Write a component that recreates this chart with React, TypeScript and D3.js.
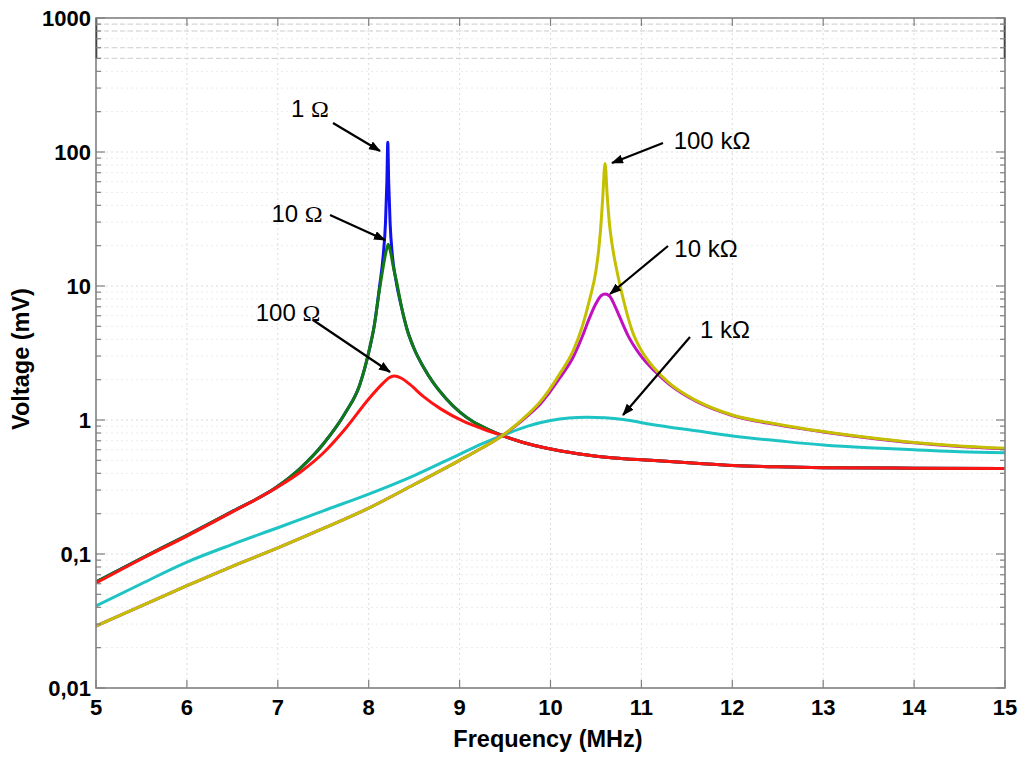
import React from "react";
import * as d3 from "d3";

const W = 1024;
const H = 762;
const M = { left: 96, right: 1005, top: 18, bottom: 688 };

const xTicks = [5, 6, 7, 8, 9, 10, 11, 12, 13, 14, 15];
const yTicks = [1000, 100, 10, 1, 0.1, 0.01];
const yTickLabels = ["1000", "100", "10", "1", "0,1", "0,01"];

// 1 Ω (blue)
const blueF = [5, 5.5, 6, 6.5, 7, 7.25, 7.5, 7.75, 7.9, 8.0, 8.06, 8.12, 8.16, 8.185, 8.2, 8.21, 8.22, 8.235, 8.26, 8.3, 8.36, 8.42, 8.5, 8.6, 8.71, 8.85, 9.0, 9.15, 9.3, 9.48, 9.7, 9.96, 10.3, 10.7, 11.1, 11.6, 12.0, 12.5, 13.0, 14.0, 15.0];
const blueV = [0.062, 0.093, 0.138, 0.208, 0.32, 0.438, 0.662, 1.15, 1.82, 3.2, 5.0, 10, 17, 30, 60, 118, 60, 30, 17, 11, 7, 4.8, 3.4, 2.5, 1.9, 1.45, 1.15, 0.97, 0.86, 0.76, 0.68, 0.615, 0.56, 0.52, 0.5, 0.475, 0.458, 0.447, 0.441, 0.437, 0.435];

// 10 Ω (green)
const greenF = [5, 5.5, 6, 6.5, 7, 7.25, 7.5, 7.75, 7.9, 8.0, 8.06, 8.12, 8.16, 8.19, 8.215, 8.24, 8.27, 8.31, 8.36, 8.42, 8.5, 8.6, 8.71, 8.85, 9.0, 9.15, 9.3, 9.48, 9.7, 9.96, 10.3, 10.7, 11.1, 11.6, 12.0, 12.5, 13.0, 14.0, 15.0];
const greenV = [0.062, 0.093, 0.138, 0.208, 0.32, 0.438, 0.662, 1.15, 1.82, 3.2, 5.0, 9.5, 14, 18, 20.5, 18, 14, 10.5, 7, 4.8, 3.4, 2.5, 1.9, 1.45, 1.15, 0.97, 0.86, 0.76, 0.68, 0.615, 0.56, 0.52, 0.5, 0.475, 0.458, 0.447, 0.441, 0.437, 0.435];

// 100 Ω (red)
const redF = [5, 5.5, 6, 6.5, 7, 7.25, 7.5, 7.75, 8.0, 8.15, 8.22, 8.28, 8.36, 8.45, 8.6, 8.8, 9.04, 9.25, 9.48, 9.7, 9.96, 10.3, 10.7, 11.1, 11.6, 12.0, 12.5, 13.0, 14.0, 15.0];
const redV = [0.0607, 0.0918, 0.136, 0.206, 0.316, 0.409, 0.567, 0.872, 1.435, 1.86, 2.06, 2.13, 2.05, 1.85, 1.5, 1.2, 0.98, 0.86, 0.76, 0.68, 0.615, 0.56, 0.52, 0.5, 0.475, 0.458, 0.447, 0.441, 0.437, 0.435];

// 1 kΩ (cyan)
const cyanF = [5, 5.5, 6, 6.5, 7, 7.5, 8, 8.5, 9, 9.25, 9.5, 9.75, 10, 10.2, 10.4, 10.6, 10.8, 11.1, 11.6, 12, 12.5, 13, 13.5, 14, 14.5, 15];
const cyanV = [0.041, 0.06, 0.087, 0.118, 0.157, 0.21, 0.28, 0.385, 0.555, 0.665, 0.78, 0.9, 0.99, 1.035, 1.05, 1.04, 1.01, 0.93, 0.83, 0.76, 0.7, 0.65, 0.62, 0.6, 0.58, 0.57];

// 10 kΩ (magenta)
const magentaF = [5, 5.5, 6, 6.5, 7, 7.5, 8, 8.5, 9, 9.25, 9.5, 9.75, 9.88, 10.1, 10.25, 10.35, 10.43, 10.5, 10.56, 10.6, 10.65, 10.7, 10.76, 10.85, 10.98, 11.15, 11.3, 11.6, 12, 12.5, 13, 13.5, 14, 14.5, 15];
const magentaV = [0.029, 0.041, 0.058, 0.081, 0.111, 0.155, 0.22, 0.33, 0.5, 0.62, 0.79, 1.08, 1.3, 2.05, 2.95, 4.2, 5.8, 7.4, 8.5, 8.7, 8.4, 7.3, 5.9, 4.3, 3.1, 2.3, 1.86, 1.38, 1.08, 0.92, 0.815, 0.735, 0.675, 0.635, 0.61];

// 100 kΩ (yellow)
const yellowF = [5, 5.5, 6, 6.5, 7, 7.5, 8, 8.5, 9, 9.25, 9.5, 9.75, 9.88, 10.1, 10.25, 10.35, 10.43, 10.5, 10.53, 10.55, 10.575, 10.6, 10.625, 10.65, 10.675, 10.7, 10.73, 10.8, 10.9, 11.0, 11.15, 11.3, 11.6, 12, 12.5, 13, 13.5, 14, 14.5, 15];
const yellowV = [0.029, 0.041, 0.058, 0.081, 0.111, 0.155, 0.22, 0.33, 0.5, 0.62, 0.79, 1.1, 1.35, 2.2, 3.3, 5.0, 7.9, 13, 18.6, 26, 46, 82, 46, 28.5, 21, 16.5, 13, 8.0, 4.6, 3.3, 2.4, 1.9, 1.4, 1.09, 0.93, 0.82, 0.74, 0.68, 0.64, 0.615];

const seriesNames = ["1 ", "10 ", "100 ", "1 kΩ", "10 kΩ", "100 kΩ"];
const seriesColors = ["#1010f0", "#127a12", "#ff1414", "#1ec4c4", "#c010c0", "#c4c000"];

export default function App() {
  const x = d3.scaleLinear().domain([5, 15]).range([M.left, M.right]);
  const y = d3.scaleLog().domain([0.01, 1000]).range([M.bottom, M.top]);

  const series = [
    { f: blueF, v: blueV, c: seriesColors[0] },
    { f: greenF, v: greenV, c: seriesColors[1] },
    { f: redF, v: redV, c: seriesColors[2] },
    { f: cyanF, v: cyanV, c: seriesColors[3] },
    { f: magentaF, v: magentaV, c: seriesColors[4] },
    { f: yellowF, v: yellowV, c: seriesColors[5] },
  ];

  const line = d3
    .line<[number, number]>()
    .x((d) => x(d[0]))
    .y((d) => y(d[1]))
    .curve(d3.curveMonotoneX);

  const minor: number[] = [];
  for (let e = -2; e < 3; e++) {
    for (let k = 2; k <= 9; k++) minor.push(k * Math.pow(10, e));
  }
  const topDashed = [500, 600, 800, 900];

  const annotations = [
    { name: seriesNames[0], omega: true, tx: 310, ty: 117, x1: 333, y1: 123, x2: 380, y2: 151 },
    { name: seriesNames[1], omega: true, tx: 297, ty: 222, x1: 330, y1: 215, x2: 385, y2: 240 },
    { name: seriesNames[2], omega: true, tx: 288, ty: 321, x1: 313, y1: 320, x2: 390, y2: 372 },
    { name: seriesNames[5], omega: false, tx: 712, ty: 149, x1: 663, y1: 143, x2: 612, y2: 163 },
    { name: seriesNames[4], omega: false, tx: 706, ty: 257, x1: 668, y1: 246, x2: 610, y2: 294 },
    { name: seriesNames[3], omega: false, tx: 725, ty: 338, x1: 690, y1: 337, x2: 623, y2: 415 },
  ];

  const font = "'Liberation Sans', Arial, sans-serif";
  const axisColor = "#808080";

  return (
    <svg width={W} height={H} style={{ position: "absolute", left: 0, top: 0, background: "#fff" }}>
      <defs>
        <marker id="ah" viewBox="0 0 12 9" refX="11" refY="4.5" markerWidth="12" markerHeight="9" orient="auto" markerUnits="userSpaceOnUse">
          <path d="M0,0 L12,4.5 L0,9 z" fill="#000" />
        </marker>
        <clipPath id="clip">
          <rect x={M.left} y={M.top} width={M.right - M.left} height={M.bottom - M.top} />
        </clipPath>
      </defs>
      <rect x={0} y={0} width={W} height={H} fill="#fff" />
      {/* grid */}
      <g strokeWidth={1}>
        {minor.map((t) => (
          <line key={"gm" + t} x1={M.left} x2={M.right} y1={y(t)} y2={y(t)} stroke="#ebebeb" strokeDasharray="2,3" />
        ))}
        {topDashed.map((t) => (
          <line key={"gt" + t} x1={M.left} x2={M.right} y1={y(t)} y2={y(t)} stroke="#cfcfcf" strokeDasharray="5,3" />
        ))}
        {xTicks.slice(1, -1).map((t) => (
          <line key={"gx" + t} x1={x(t)} x2={x(t)} y1={M.top} y2={M.bottom} stroke="#dcdcdc" strokeDasharray="2,3" />
        ))}
        {yTicks.slice(1, -1).map((t) => (
          <line key={"gy" + t} x1={M.left} x2={M.right} y1={y(t)} y2={y(t)} stroke="#dcdcdc" strokeDasharray="2,3" />
        ))}
      </g>
      {/* curves */}
      <g clipPath="url(#clip)" fill="none" strokeWidth={3} strokeLinejoin="round">
        {series.map((s, i) => (
          <path key={i} d={line(s.f.map((f, j) => [f, s.v[j]] as [number, number])) || ""} stroke={s.c} />
        ))}
      </g>
      {/* frame */}
      <rect x={M.left} y={M.top} width={M.right - M.left} height={M.bottom - M.top} fill="none" stroke={axisColor} strokeWidth={1.6} />
      <line x1={M.left + 0.5} x2={M.left + 0.5} y1={M.top} y2={y(500)} stroke="#444" strokeWidth={1.6} />
      <line x1={M.right - 0.5} x2={M.right - 0.5} y1={M.top} y2={y(500)} stroke="#444" strokeWidth={1.6} />
      {/* ticks */}
      <g stroke={axisColor} strokeWidth={1.2}>
        {xTicks.map((t) => (
          <g key={"xt" + t}>
            <line x1={x(t)} x2={x(t)} y1={M.bottom} y2={M.bottom - 8} />
            <line x1={x(t)} x2={x(t)} y1={M.top} y2={M.top + 8} />
          </g>
        ))}
        {yTicks.map((t) => (
          <g key={"yt" + t}>
            <line x1={M.left} x2={M.left + 9} y1={y(t)} y2={y(t)} />
            <line x1={M.right} x2={M.right - 9} y1={y(t)} y2={y(t)} />
          </g>
        ))}
        {minor.map((t) => (
          <g key={"ym" + t}>
            <line x1={M.left} x2={M.left + 5} y1={y(t)} y2={y(t)} />
            <line x1={M.right} x2={M.right - 5} y1={y(t)} y2={y(t)} />
          </g>
        ))}
      </g>
      {/* tick labels */}
      <g fontFamily={font} fontWeight="bold" fontSize={22} fill="#000">
        {xTicks.map((t) => (
          <text key={"xl" + t} x={x(t)} y={715} textAnchor="middle">
            {t}
          </text>
        ))}
        {yTicks.map((t, i) => (
          <text key={"yl" + t} x={91} y={y(t) + 8} textAnchor="end">
            {yTickLabels[i]}
          </text>
        ))}
      </g>
      {/* axis titles */}
      <text x={548} y={747} textAnchor="middle" fontFamily={font} fontWeight="bold" fontSize={23.5}>
        Frequency (MHz)
      </text>
      <text transform={`translate(29, 359) rotate(-90)`} textAnchor="middle" fontFamily={font} fontWeight="bold" fontSize={23.5}>
        Voltage (mV)
      </text>
      {/* annotations */}
      <g fontFamily={font} fontSize={24} fill="#000">
        {annotations.map((a, i) => (
          <g key={"an" + i}>
            <line x1={a.x1} y1={a.y1} x2={a.x2} y2={a.y2} stroke="#000" strokeWidth={2.2} markerEnd="url(#ah)" />
            <text x={a.tx} y={a.ty} textAnchor="middle">
              {a.name}
              {a.omega ? <tspan fontFamily="'Liberation Serif', 'Times New Roman', serif">Ω</tspan> : null}
            </text>
          </g>
        ))}
      </g>
    </svg>
  );
}
